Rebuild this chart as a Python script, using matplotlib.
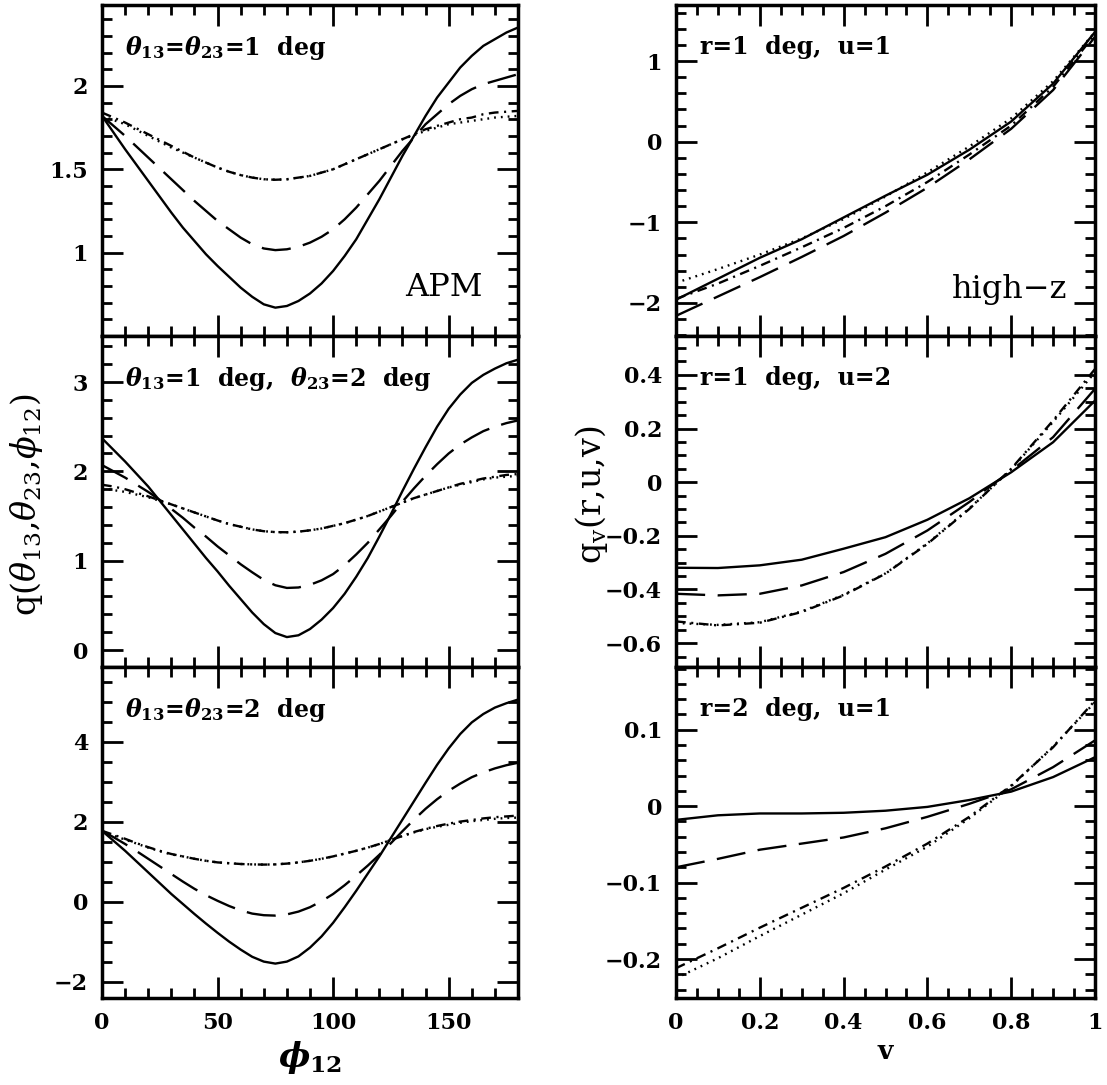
import numpy as np
import matplotlib
matplotlib.use("Agg")
import matplotlib.pyplot as plt
from matplotlib.ticker import MultipleLocator, FuncFormatter

plt.rcParams["font.family"] = ["DejaVu Serif"]
plt.rcParams["mathtext.fontset"] = "custom"
plt.rcParams["mathtext.rm"] = "DejaVu Serif"
plt.rcParams["mathtext.it"] = "DejaVu Serif:italic"
plt.rcParams["mathtext.bf"] = "DejaVu Serif:bold"
plt.rcParams["mathtext.bfit"] = "DejaVu Serif:italic:bold"
plt.rcParams["lines.scale_dashes"] = False

# ---- left column: q(theta13, theta23, phi12), APM ----
phi12 = [0, 5, 10, 15, 20, 25, 30, 35, 40, 45, 50, 55, 60, 65, 70, 75, 80, 85, 90,
         95, 100, 105, 110, 115, 120, 125, 130, 135, 140, 145, 150, 155, 160, 165, 170, 175, 180]

# theta13 = theta23 = 1 deg
apm11_solid = [1.82, 1.72, 1.62, 1.525, 1.43, 1.335, 1.24, 1.15, 1.07, 0.99, 0.92, 0.855, 0.79, 0.735, 0.69, 0.67, 0.68, 0.71, 0.755,
               0.815, 0.89, 0.98, 1.08, 1.20, 1.32, 1.45, 1.58, 1.70, 1.82, 1.93, 2.02, 2.11, 2.18, 2.24, 2.28, 2.32, 2.35]
apm11_ldash = [1.82, 1.76, 1.70, 1.635, 1.57, 1.505, 1.44, 1.375, 1.31, 1.25, 1.19, 1.14, 1.09, 1.05, 1.025, 1.015, 1.02, 1.035, 1.06,
               1.095, 1.14, 1.20, 1.27, 1.35, 1.43, 1.52, 1.61, 1.69, 1.77, 1.83, 1.89, 1.94, 1.98, 2.01, 2.03, 2.05, 2.07]
apm11_dotdash = [1.84, 1.81, 1.78, 1.745, 1.71, 1.675, 1.64, 1.605, 1.57, 1.54, 1.51, 1.485, 1.465, 1.45, 1.44, 1.437, 1.44, 1.45, 1.46,
                 1.48, 1.50, 1.53, 1.56, 1.59, 1.62, 1.65, 1.68, 1.71, 1.74, 1.76, 1.78, 1.80, 1.81, 1.83, 1.84, 1.845, 1.85]
apm11_dot = [1.82, 1.795, 1.77, 1.735, 1.70, 1.665, 1.63, 1.60, 1.57, 1.54, 1.51, 1.485, 1.465, 1.45, 1.44, 1.437, 1.44, 1.45, 1.46,
             1.48, 1.50, 1.53, 1.56, 1.59, 1.62, 1.65, 1.68, 1.705, 1.73, 1.75, 1.77, 1.78, 1.79, 1.80, 1.81, 1.815, 1.82]

# theta13 = 1 deg, theta23 = 2 deg
apm12_solid = [2.37, 2.24, 2.11, 1.97, 1.83, 1.67, 1.51, 1.35, 1.19, 1.03, 0.88, 0.72, 0.57, 0.42, 0.29, 0.19, 0.145, 0.165, 0.235,
               0.34, 0.47, 0.63, 0.82, 1.03, 1.27, 1.52, 1.78, 2.03, 2.27, 2.50, 2.70, 2.86, 2.99, 3.08, 3.15, 3.21, 3.25]
apm12_ldash = [2.07, 2.00, 1.93, 1.85, 1.77, 1.68, 1.58, 1.48, 1.37, 1.27, 1.16, 1.06, 0.96, 0.87, 0.785, 0.725, 0.695, 0.70, 0.73,
               0.78, 0.85, 0.95, 1.07, 1.20, 1.35, 1.50, 1.66, 1.81, 1.95, 2.08, 2.20, 2.30, 2.38, 2.45, 2.50, 2.54, 2.57]
apm12_dotdash = [1.85, 1.83, 1.80, 1.76, 1.72, 1.675, 1.63, 1.585, 1.54, 1.495, 1.45, 1.41, 1.38, 1.35, 1.33, 1.32, 1.318, 1.325, 1.34,
                 1.36, 1.39, 1.42, 1.46, 1.50, 1.55, 1.60, 1.65, 1.70, 1.74, 1.78, 1.82, 1.86, 1.89, 1.92, 1.94, 1.96, 1.97]
apm12_dot = [1.81, 1.79, 1.77, 1.74, 1.71, 1.67, 1.63, 1.585, 1.54, 1.495, 1.45, 1.41, 1.38, 1.35, 1.33, 1.32, 1.318, 1.325, 1.34,
             1.36, 1.39, 1.42, 1.46, 1.50, 1.55, 1.60, 1.65, 1.70, 1.74, 1.78, 1.82, 1.85, 1.88, 1.91, 1.93, 1.94, 1.95]

# theta13 = theta23 = 2 deg
apm22_solid = [1.78, 1.53, 1.28, 1.01, 0.74, 0.47, 0.20, -0.05, -0.30, -0.54, -0.77, -0.99, -1.19, -1.37, -1.49, -1.54, -1.49, -1.36, -1.14,
               -0.86, -0.52, -0.13, 0.28, 0.71, 1.14, 1.60, 2.06, 2.52, 2.98, 3.43, 3.84, 4.20, 4.49, 4.70, 4.86, 4.97, 5.06]
apm22_ldash = [1.78, 1.62, 1.45, 1.27, 1.08, 0.89, 0.70, 0.51, 0.33, 0.17, 0.03, -0.10, -0.21, -0.29, -0.33, -0.34, -0.31, -0.24, -0.13,
               0.02, 0.20, 0.42, 0.66, 0.91, 1.18, 1.47, 1.77, 2.06, 2.33, 2.57, 2.78, 2.96, 3.12, 3.24, 3.34, 3.42, 3.48]
apm22_dotdash = [1.78, 1.68, 1.58, 1.47, 1.37, 1.28, 1.20, 1.14, 1.08, 1.03, 0.99, 0.97, 0.95, 0.94, 0.935, 0.94, 0.96, 0.99, 1.03,
                 1.08, 1.14, 1.21, 1.28, 1.36, 1.45, 1.55, 1.65, 1.75, 1.83, 1.90, 1.96, 2.01, 2.05, 2.09, 2.12, 2.14, 2.16]
apm22_dot = [1.75, 1.66, 1.56, 1.46, 1.36, 1.27, 1.19, 1.14, 1.08, 1.03, 0.99, 0.97, 0.95, 0.94, 0.935, 0.94, 0.96, 0.99, 1.03,
             1.08, 1.14, 1.21, 1.28, 1.36, 1.45, 1.55, 1.65, 1.74, 1.82, 1.88, 1.93, 1.98, 2.02, 2.05, 2.08, 2.10, 2.11]

# ---- right column: q_v(r,u,v), high-z ----
v = [0.0, 0.1, 0.2, 0.3, 0.4, 0.5, 0.6, 0.7, 0.8, 0.9, 1.0]

# r = 1 deg, u = 1
hz11_solid = [-1.96, -1.70, -1.44, -1.21, -0.94, -0.67, -0.41, -0.10, 0.25, 0.72, 1.36]
hz11_ldash = [-2.16, -1.92, -1.68, -1.43, -1.17, -0.88, -0.57, -0.22, 0.16, 0.64, 1.30]
hz11_dotdash = [-1.95, -1.76, -1.54, -1.31, -1.07, -0.80, -0.50, -0.16, 0.20, 0.68, 1.33]
hz11_dot = [-1.75, -1.58, -1.40, -1.20, -0.96, -0.68, -0.38, -0.06, 0.29, 0.75, 1.36]

# r = 1 deg, u = 2
hz12_solid = [-0.319, -0.320, -0.310, -0.289, -0.248, -0.205, -0.140, -0.060, 0.037, 0.149, 0.304]
hz12_ldash = [-0.416, -0.422, -0.416, -0.385, -0.335, -0.267, -0.180, -0.074, 0.043, 0.168, 0.348]
hz12_dotdash = [-0.519, -0.534, -0.524, -0.484, -0.422, -0.341, -0.230, -0.100, 0.050, 0.230, 0.422]
hz12_dot = [-0.525, -0.532, -0.522, -0.482, -0.420, -0.340, -0.228, -0.098, 0.048, 0.225, 0.410]

# r = 2 deg, u = 1
hz21_solid = [-0.018, -0.012, -0.0096, -0.0096, -0.0087, -0.006, -0.001, 0.008, 0.019, 0.038, 0.064]
hz21_ldash = [-0.080, -0.069, -0.057, -0.049, -0.041, -0.029, -0.014, 0.003, 0.022, 0.051, 0.086]
hz21_dotdash = [-0.212, -0.186, -0.159, -0.133, -0.107, -0.079, -0.049, -0.014, 0.027, 0.077, 0.138]
hz21_dot = [-0.225, -0.199, -0.170, -0.142, -0.114, -0.083, -0.053, -0.016, 0.026, 0.078, 0.136]

left_labels = [
    r"$\mathbfit{\theta}_{\mathbf{13}}$=$\mathbfit{\theta}_{\mathbf{23}}$=1  deg",
    r"$\mathbfit{\theta}_{\mathbf{13}}$=1  deg,  $\mathbfit{\theta}_{\mathbf{23}}$=2  deg",
    r"$\mathbfit{\theta}_{\mathbf{13}}$=$\mathbfit{\theta}_{\mathbf{23}}$=2  deg",
]
right_labels = ["r=1  deg,  u=1", "r=1  deg,  u=2", "r=2  deg,  u=1"]

left_ylims = [(0.5, 2.485), (-0.19, 3.515), (-2.4, 5.875)]
left_yticks = [[1, 1.5, 2], [0, 1, 2, 3], [-2, 0, 2, 4]]
left_yminor = [0.1, 0.2, 0.5]

right_ylims = [(-2.41, 1.695), (-0.689, 0.545), (-0.251, 0.182)]
right_yticks = [[-2, -1, 0, 1], [-0.6, -0.4, -0.2, 0, 0.2, 0.4], [-0.2, -0.1, 0, 0.1]]
right_yminor = [0.2, 0.05, 0.02]

left_data = [
    [apm11_solid, apm11_ldash, apm11_dotdash, apm11_dot],
    [apm12_solid, apm12_ldash, apm12_dotdash, apm12_dot],
    [apm22_solid, apm22_ldash, apm22_dotdash, apm22_dot],
]
right_data = [
    [hz11_solid, hz11_ldash, hz11_dotdash, hz11_dot],
    [hz12_solid, hz12_ldash, hz12_dotdash, hz12_dot],
    [hz21_solid, hz21_ldash, hz21_dotdash, hz21_dot],
]

styles = ["-", (0, (21, 9)), (0, (7, 4, 1.5, 4)), (0, (1.3, 3.6))]

fmt = FuncFormatter(lambda x, pos: ("%g" % x).replace("-", "\u2212"))

W, H = 1107, 1085
fig = plt.figure(figsize=(W / 100, H / 100), dpi=100)

row_tops = [5, 336, 667]
row_h = 331


def make_axes(x0, x1, top):
    return fig.add_axes([x0 / W, 1 - (top + row_h) / H, (x1 - x0) / W, row_h / H])


def style_axes(ax):
    for s in ax.spines.values():
        s.set_linewidth(2.5)
    ax.tick_params(which="both", direction="in", top=True, right=True,
                   labelsize=16, width=2, pad=10)
    ax.tick_params(which="major", length=15)
    ax.tick_params(which="minor", length=7.5)
    for lab in ax.get_xticklabels() + ax.get_yticklabels():
        lab.set_fontweight("bold")


for i in range(3):
    # left column
    ax = make_axes(102, 518, row_tops[i])
    for y, ls in zip(left_data[i], styles):
        ax.plot(phi12, y, color="black", lw=1.7, linestyle=ls)
    ax.set_xlim(0, 180)
    ax.set_ylim(*left_ylims[i])
    ax.set_xticks([0, 50, 100, 150])
    ax.xaxis.set_minor_locator(MultipleLocator(10))
    ax.set_yticks(left_yticks[i])
    ax.yaxis.set_minor_locator(MultipleLocator(left_yminor[i]))
    ax.yaxis.set_major_formatter(fmt)
    ax.xaxis.set_major_formatter(fmt)
    if i < 2:
        ax.tick_params(labelbottom=False)
    style_axes(ax)
    ax.text(0.055, 0.87, left_labels[i], transform=ax.transAxes, fontsize=17,
            fontweight="bold", va="center", ha="left")
    if i == 0:
        ax.text(0.915, 0.12, "APM", transform=ax.transAxes, fontsize=23,
                ha="right", va="baseline")
    if i == 2:
        ax.set_xlabel(r"$\mathbfit{\phi}_{\mathbf{12}}$", fontsize=24, labelpad=4)

    # right column
    ax = make_axes(676, 1095, row_tops[i])
    for y, ls in zip(right_data[i], styles):
        ax.plot(v, y, color="black", lw=1.7, linestyle=ls)
    ax.set_xlim(0, 1)
    ax.set_ylim(*right_ylims[i])
    ax.set_xticks([0, 0.2, 0.4, 0.6, 0.8, 1.0])
    ax.xaxis.set_minor_locator(MultipleLocator(0.05))
    ax.set_yticks(right_yticks[i])
    ax.yaxis.set_minor_locator(MultipleLocator(right_yminor[i]))
    ax.yaxis.set_major_formatter(fmt)
    ax.xaxis.set_major_formatter(fmt)
    if i < 2:
        ax.tick_params(labelbottom=False)
    style_axes(ax)
    ax.text(0.057, 0.873, right_labels[i], transform=ax.transAxes, fontsize=17,
            fontweight="bold", va="center", ha="left")
    if i == 0:
        ax.text(0.933, 0.115, "high\u2212z", transform=ax.transAxes, fontsize=23,
                ha="right", va="baseline")
    if i == 2:
        ax.set_xlabel("v", fontsize=19, fontweight="bold", labelpad=4)

fig.text(27 / W, 1 - 505 / H, r"q($\theta_{13}$,$\theta_{23}$,$\phi_{12}$)",
         rotation=90, fontsize=24, ha="center", va="center")
fig.text(592 / W, 1 - 495 / H, r"$\mathrm{q_v(r{,}u{,}v)}$",
         rotation=90, fontsize=24, ha="center", va="center")

fig.savefig("out.png", dpi=100)
